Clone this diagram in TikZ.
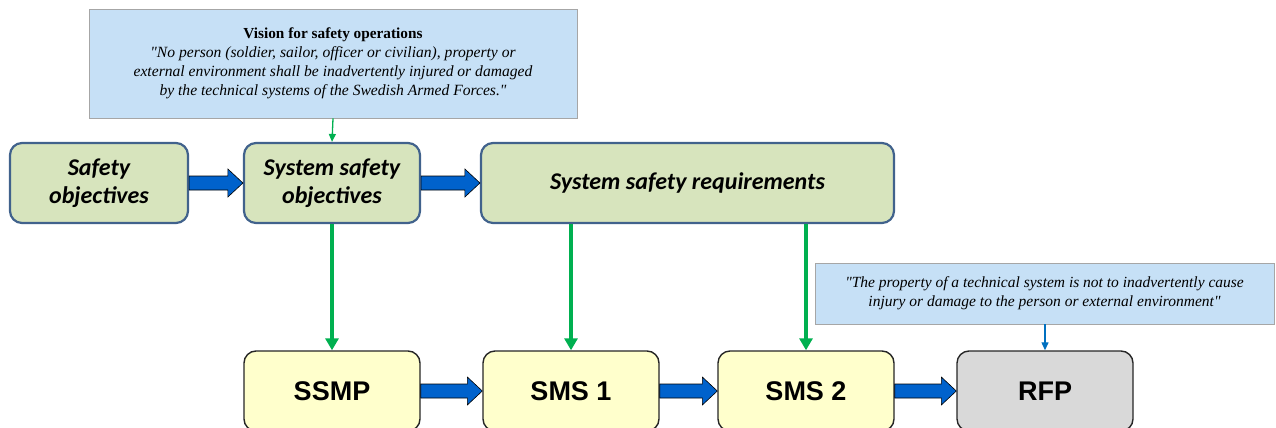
\documentclass[tikz,border=0pt]{standalone}
\usepackage{fontspec}
\setmainfont{Liberation Serif}[Ligatures=TeXOff]
\newfontfamily\carlito{Carlito}
\newfontfamily\arialsans{Liberation Sans}
\usetikzlibrary{arrows.meta,calc}

\definecolor{goalfill}{HTML}{D7E4BD}
\definecolor{goaledge}{HTML}{41628C}
\definecolor{docfill}{HTML}{FFFFCC}
\definecolor{rfpfill}{HTML}{D9D9D9}
\definecolor{notefill}{HTML}{C6E0F6}
\definecolor{noteedge}{HTML}{A6A6A6}
\definecolor{flowblue}{HTML}{0062CC}
\definecolor{linkgreen}{HTML}{00B050}
\definecolor{linkblue}{HTML}{0070C0}

\tikzset{
  goalbox/.style={draw=goaledge, fill=goalfill, line width=2.2pt, rounded corners=12pt,
    minimum height=80pt, align=center, inner sep=0pt,
    font=\carlito\bfseries\itshape\fontsize{24}{28}\selectfont},
  docbox/.style={draw=black!85, fill=docfill, line width=1.4pt, rounded corners=12pt,
    minimum width=176pt, minimum height=80pt, inner sep=0pt,
    font=\arialsans\bfseries\fontsize{27}{30}\selectfont},
  notebox/.style={draw=noteedge, fill=notefill, line width=0.8pt, inner sep=0pt, align=center,
    font=\itshape\fontsize{15.6}{19}\selectfont},
  feed/.style={draw=linkgreen, line width=3.5pt, -{Triangle[width=13pt,length=12pt]}},
  thinfeed/.style={line width=1.3pt, -{Triangle[width=7pt,length=8pt]}},
  flowarrow/.style={fill=flowblue, draw=black, line width=0.6pt, line join=miter}
}

% fat block arrow from the east side of #1 to the west side of #2
\newcommand\blockarrow[2]{%
  \path let \p1=(#1.east), \p2=(#2.west) in
    [flowarrow] (\x1,\y1-7pt) -- (\x2-15pt,\y1-7pt) -- (\x2-15pt,\y1-14pt) -- (\x2,\y1)
    -- (\x2-15pt,\y1+14pt) -- (\x2-15pt,\y1+7pt) -- (\x1,\y1+7pt) -- cycle;}

\begin{document}
\begin{tikzpicture}[x=1pt,y=-1pt]
\useasboundingbox (0,0) rectangle (1276,428);
\clip (0,0) rectangle (1276,428);

% vision statement
\node[notebox, minimum width=488pt, minimum height=109pt] (vision) at (333,63.5)
  {{\upshape\bfseries\fontsize{15.3}{19}\selectfont Vision for safety operations}\\
   "No person (soldier, sailor, officer or civilian), property or\\
   external environment shall be inadvertently injured or damaged\\
   by the technical systems of the Swedish Armed Forces."};

% objectives and requirements
\node[goalbox, minimum width=178pt] (so)  at (99,183)    {Safety\\objectives};
\node[goalbox, minimum width=176pt] (sso) at (332,183)   {System safety\\objectives};
\node[goalbox, minimum width=413pt] (ssr) at (687.5,183) {System safety requirements};

% property statement
\node[notebox, font=\itshape\fontsize{15.5}{19}\selectfont, minimum width=459pt, minimum height=61pt]
  (prop) at (1044.5,293.5)
  {"The property of a technical system is not to inadvertently cause\\
   injury or damage to the person or external environment"};

% documents
\node[docbox] (ssmp) at (332,391)  {SSMP};
\node[docbox] (sms1) at (571,391)  {SMS 1};
\node[docbox] (sms2) at (806,391)  {SMS 2};
\node[docbox, fill=rfpfill] (rfp) at (1045,391) {RFP};

% main flow
\blockarrow{so}{sso}
\blockarrow{sso}{ssr}
\blockarrow{ssmp}{sms1}
\blockarrow{sms1}{sms2}
\blockarrow{sms2}{rfp}

% feeds
\draw[thinfeed, draw=linkgreen] (vision.south) -- (sso.north);
\draw[feed] (sso.south) -- (ssmp.north);
\draw[feed] (sms1.north |- ssr.south) -- (sms1.north);
\draw[feed] (sms2.north |- ssr.south) -- (sms2.north);
\draw[thinfeed, draw=linkblue] (rfp.north |- prop.south) -- (rfp.north);
\end{tikzpicture}
\end{document}
